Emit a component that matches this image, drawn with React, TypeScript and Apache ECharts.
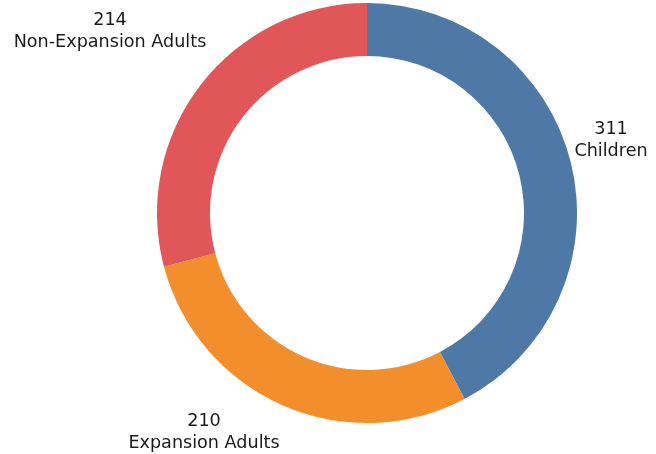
import React, { useEffect, useRef } from "react";
import * as echarts from "echarts";

const categories = ["Children", "Expansion Adults", "Non-Expansion Adults"];
const values = [311, 210, 214];
const colors = ["#4e79a7", "#f28e2b", "#e15759"];
const labelPositions = [
  [611, 139],
  [204, 431],
  [110, 30],
];

export default function App() {
  const ref = useRef<HTMLDivElement>(null);
  useEffect(() => {
    if (!ref.current) return;
    const chart = echarts.init(ref.current, undefined, { renderer: "svg" });
    chart.setOption({
      animation: false,
      series: [
        {
          type: "pie",
          center: [367, 213],
          radius: [157, 210],
          startAngle: 90,
          clockwise: true,
          label: { show: false },
          labelLine: { show: false },
          emphasis: { disabled: true },
          data: categories.map((c, i) => ({
            name: c,
            value: values[i],
            itemStyle: { color: colors[i] },
          })),
        },
      ],
      graphic: categories.map((c, i) => ({
        type: "text",
        x: labelPositions[i][0],
        y: labelPositions[i][1],
        style: {
          text: `${values[i]}\n${c}`,
          align: "center",
          verticalAlign: "middle",
          font: '17.6px "DejaVu Sans"',
          lineHeight: 22,
          fill: "#1a1a1a",
        },
      })),
    });
    return () => chart.dispose();
  }, []);
  return (
    <div
      ref={ref}
      style={{ position: "fixed", left: 0, top: 0, width: 656, height: 454 }}
    />
  );
}
